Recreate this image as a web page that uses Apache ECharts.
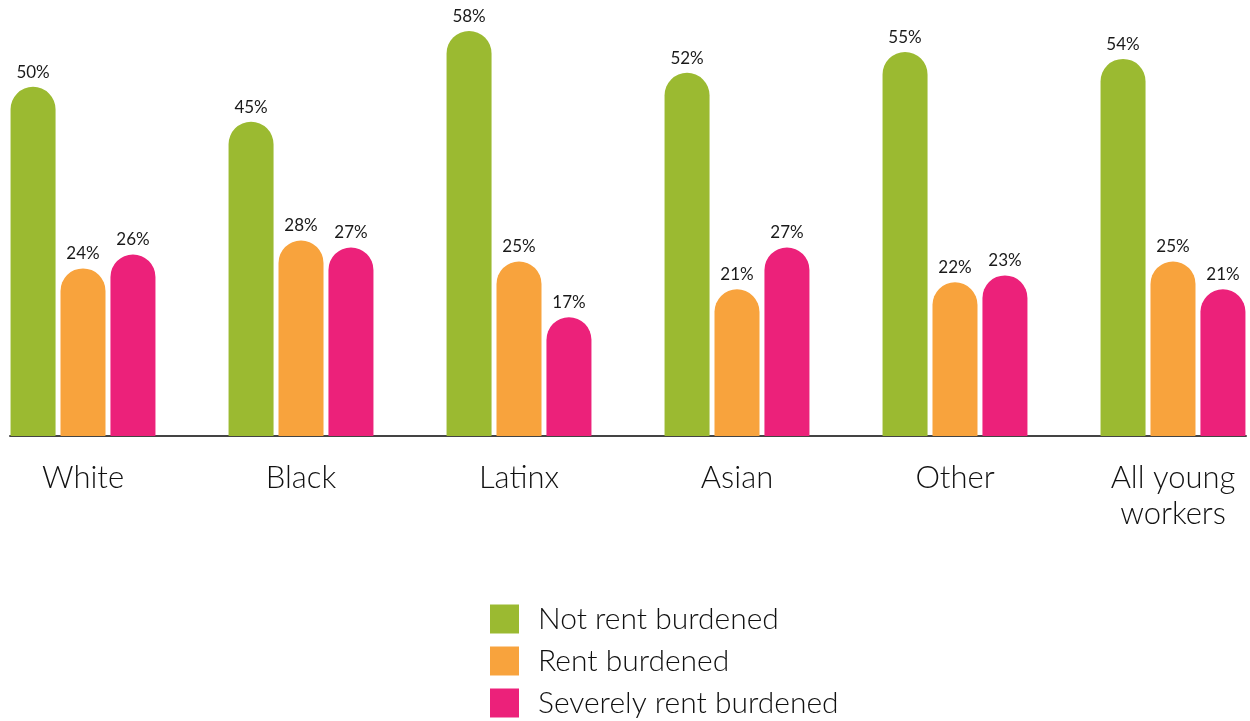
<!DOCTYPE html>
<html>
<head>
<meta charset="utf-8">
<script src="https://cdn.jsdelivr.net/npm/echarts@6/dist/echarts.min.js"></script>
<style>html,body{margin:0;padding:0;background:#fff}#c{width:1250px;height:721px}</style>
</head>
<body>
<div id="c"></div>
<script>
const categories = ['White', 'Black', 'Latinx', 'Asian', 'Other', 'All young\nworkers'];
const seriesNames = ['Not rent burdened', 'Rent burdened', 'Severely rent burdened'];
const notBurdened = [50, 45, 58, 52, 55, 54];
const rentBurdened = [24, 28, 25, 21, 22, 25];
const severelyBurdened = [26, 27, 17, 27, 23, 21];
const colors = ['#9BBA31', '#F8A33D', '#EC217A'];

const chart = echarts.init(document.getElementById('c'));
const font = 'Lato, "Open Sans", sans-serif';
function mk(name, data, color) {
  return {
    name: name, type: 'bar', barWidth: 45, barGap: '11%',
    data: data.map((v, i) => [i, v]),
    itemStyle: { color: color, borderRadius: [22.5, 22.5, 0, 0] },
    label: { show: true, position: 'top', distance: 6,
      formatter: p => p.value[1] + '%',
      fontFamily: font, fontSize: 17, color: '#1a1a1a' }
  };
}
chart.setOption({
  animation: false,
  grid: { left: 10, right: 4, top: 17, bottom: 285, containLabel: false },
  xAxis: {
    type: 'value', min: -0.3349, max: 5.3349, splitNumber: 5,
    splitLine: { show: false },
    axisLine: { show: true, onZero: false, lineStyle: { color: '#444', width: 2 } },
    axisTick: { show: false },
    axisLabel: {
      margin: 24, fontFamily: font, fontWeight: 300, fontSize: 31, color: '#111', lineHeight: 36,
      showMinLabel: false, showMaxLabel: false,
      formatter: v => (Number.isInteger(v) && categories[v] !== undefined) ? categories[v] : ''
    }
  },
  yAxis: { type: 'value', min: 0, max: 60, show: false, splitLine: { show: false } },
  legend: {
    orient: 'vertical', left: 490, top: 604, padding: 0, itemWidth: 29, itemHeight: 29, itemGap: 12,
    icon: 'rect',
    textStyle: { fontFamily: font, fontWeight: 300, fontSize: 30, lineHeight: 29, color: '#111', padding: [0, 0, 0, 14] },
    data: seriesNames
  },
  series: [
    mk(seriesNames[0], notBurdened, colors[0]),
    mk(seriesNames[1], rentBurdened, colors[1]),
    mk(seriesNames[2], severelyBurdened, colors[2])
  ]
});
</script>
</body>
</html>
